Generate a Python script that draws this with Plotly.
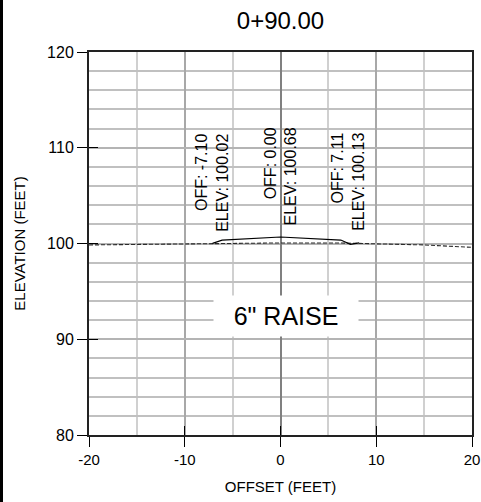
import plotly.graph_objects as go

# ---- data ----
station = "0+90.00"
existing_off = [-20.0, -7.1, -6.1, 0.0, 6.4, 7.4, 10.4, 15.0, 20.0]
existing_elev = [99.85, 100.0, 100.05, 100.06, 100.05, 100.02, 99.95, 99.85, 99.6]
proposed_off = [-7.10, -6.1, 0.0, 6.3, 7.3, 8.2]
proposed_elev = [100.02, 100.35, 100.68, 100.36, 99.92, 100.06]
label_off = [-7.10, 0.00, 7.11]
label_elev = [100.02, 100.68, 100.13]
note_text = '6" RAISE'
note_pos = (0.57, 92.4)
x_ticks = [-20, -10, 0, 10, 20]
x_tick_text = ["-20", "-10", "0", "10", "20"]
y_ticks = [80, 90, 100, 110, 120]
y_tick_text = ["80", "90", "100", "110", "120"]

FONT = "Liberation Sans, Arial, sans-serif"
INK = "black"
EDGE = 3  # px of black sheet border at the left of the page

fig = go.Figure()
fig.add_trace(go.Scatter(x=existing_off, y=existing_elev, mode="lines",
                         line=dict(color="#2a2a2a", width=1.1, dash="4px,2px"),
                         hoverinfo="skip", showlegend=False))
fig.add_trace(go.Scatter(x=proposed_off, y=proposed_elev, mode="lines",
                         line=dict(color="black", width=1.2),
                         hoverinfo="skip", showlegend=False))
# invisible trace for overlay axes (inside tick half)
fig.add_trace(go.Scatter(x=[-20], y=[80], xaxis="x2", yaxis="y2", mode="markers",
                         marker=dict(opacity=0), hoverinfo="skip", showlegend=False))

for o, e in zip(label_off, label_elev):
    fig.add_annotation(x=o, y=e, xref="x", yref="y",
                       text=f"OFF: {o:.2f}<br>ELEV: {e:.2f}",
                       textangle=-90, showarrow=False, align="right",
                       xanchor="center", yanchor="bottom", yshift=9,
                       font=dict(family=FONT, size=16, color=INK))

fig.add_annotation(x=note_pos[0], y=note_pos[1], xref="x", yref="y",
                   text=note_text, showarrow=False, bgcolor="white",
                   width=142, height=38, xanchor="center", yanchor="middle",
                   font=dict(family=FONT, size=25, color=INK))

W = 481 - EDGE
L = 89 - EDGE
fig.update_layout(
    template="none",
    width=W, height=502,
    margin=dict(l=L, r=9, t=52, b=67, autoexpand=False),
    paper_bgcolor="white", plot_bgcolor="white",
    font=dict(family=FONT, size=15, color=INK),
    title=dict(text=station, x=(L + 383/2)/W, xanchor="center",
               y=1 - 21/502, yanchor="middle",
               font=dict(family=FONT, size=24, color=INK)),
    xaxis=dict(range=[-20, 20], tickvals=x_ticks, ticktext=x_tick_text,
               ticks="outside", ticklen=10, automargin=False,
               tickcolor="black", tickwidth=1.2,
               showgrid=True, gridcolor="#a8a8a8", gridwidth=1.5,
               minor=dict(dtick=5, tick0=0, showgrid=True, gridcolor="#d0d0d0", gridwidth=1.5),
               zeroline=True, zerolinecolor="#808080", zerolinewidth=1.5,
               showline=True, linecolor="#222", linewidth=2, mirror=True,
               tickfont=dict(size=15, color=INK),
               title=dict(text="OFFSET (FEET)", standoff=14, font=dict(size=15, color=INK))),
    yaxis=dict(range=[80, 120], tickvals=y_ticks, ticktext=y_tick_text,
               ticks="outside", ticklen=10, automargin=False,
               tickcolor="black", tickwidth=1.2,
               showgrid=True, gridcolor="#b4b4b4", gridwidth=1.5,
               minor=dict(dtick=2, tick0=0, showgrid=True, gridcolor="#c0c0c0", gridwidth=1.5),
               zeroline=False,
               showline=True, linecolor="#222", linewidth=2, mirror=True,
               tickfont=dict(size=16, color=INK),
               title=dict(text="ELEVATION (FEET)", standoff=18, font=dict(size=15, color=INK))),
    xaxis2=dict(overlaying="x", range=[-20, 20], tickvals=x_ticks, ticks="inside",
                ticklen=9, tickcolor="black", tickwidth=1.2, showticklabels=False,
                showgrid=False, zeroline=False, showline=False, side="bottom",
                anchor="y2", automargin=False),
    yaxis2=dict(overlaying="y", range=[80, 120], tickvals=y_ticks, ticks="inside",
                ticklen=9, tickcolor="black", tickwidth=1.2, showticklabels=False,
                showgrid=False, zeroline=False, showline=False, side="left",
                anchor="x2", automargin=False),
)

post = (
    "document.body.style.margin='0';document.body.style.padding='0';"
    "document.body.style.overflow='hidden';"
    "document.body.style.borderLeft='%dpx solid #000';"
    "document.body.style.minHeight='100vh';"
    "document.documentElement.style.background='#fff';" % EDGE
)
fig.write_html("out.html", config={"displayModeBar": False}, post_script=post)
